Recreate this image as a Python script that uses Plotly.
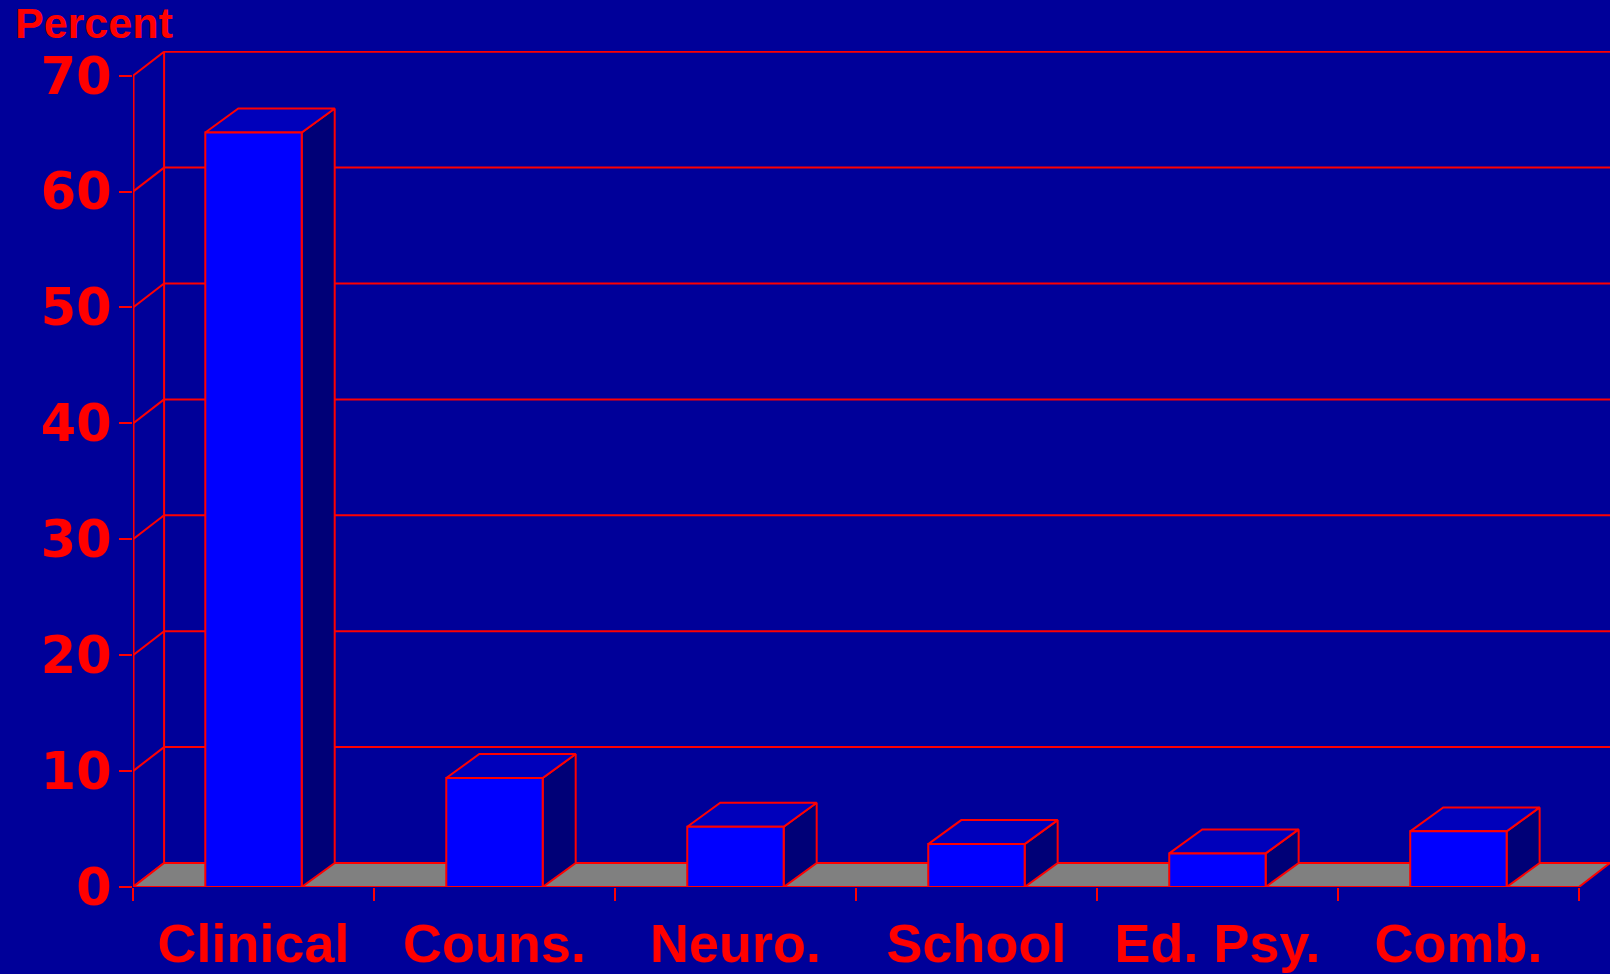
import plotly.graph_objects as go

# data
categories = ["Clinical", "Couns.", "Neuro.", "School", "Ed. Psy.", "Comb."]
percent = [65.1, 9.4, 5.2, 3.7, 2.9, 4.8]
y_ticks = [0, 10, 20, 30, 40, 50, 60, 70]

# styling
BG = "#000099"
RED = "#FF0000"
FRONT = "#0000FF"
TOP = "#0000BB"
SIDE = "#000077"
FLOOR = "#808080"
FONT = "Liberation Sans, Arial, sans-serif"
TICK_FONT = "DejaVu Sans, Verdana, sans-serif"

BAR_W = 0.4
DX, DY = 0.129, 2.07          # depth of walls / floor (data units)
BAR_DX = 0.137                # depth of bars
Y_MAX = 70
X_LO, X_HI = -0.5, len(categories) - 0.5


def poly(xs, ys, fill, width=2):
    return go.Scatter(
        x=xs + [xs[0]], y=ys + [ys[0]], mode="lines", fill="toself",
        fillcolor=fill, line=dict(color=RED, width=width),
        hoverinfo="skip", showlegend=False,
    )


def line(xs, ys, width=2):
    return go.Scatter(
        x=xs, y=ys, mode="lines", line=dict(color=RED, width=width),
        hoverinfo="skip", showlegend=False,
    )


fig = go.Figure()

# back wall grid
for v in y_ticks[1:]:
    fig.add_trace(line([X_LO + DX, X_HI + DX + 1], [v + DY, v + DY]))
for v in y_ticks:
    fig.add_trace(line([X_LO, X_LO + DX], [v, v + DY]))
fig.add_trace(line([X_LO + DX, X_LO + DX], [DY, Y_MAX + DY]))

# floor
fig.add_trace(poly([X_LO, X_HI, X_HI + DX, X_LO + DX], [0, 0, DY, DY], FLOOR))

# front axis line
fig.add_trace(line([X_LO, X_LO], [0, Y_MAX], width=3))

# bars
for i, v in enumerate(percent):
    x0, x1 = i - BAR_W / 2, i + BAR_W / 2
    fig.add_trace(poly([x1, x1 + BAR_DX, x1 + BAR_DX, x1], [0, DY, v + DY, v], SIDE))
    fig.add_trace(poly([x0, x1, x1 + BAR_DX, x0 + BAR_DX], [v, v, v + DY, v + DY], TOP))
    fig.add_trace(poly([x0, x1, x1, x0], [0, 0, v, v], FRONT))

fig.update_layout(
    template="none",
    width=1610, height=974,
    margin=dict(l=133, r=0, t=51, b=87),
    paper_bgcolor=BG, plot_bgcolor=BG,
    font=dict(family=FONT, color=RED),
    showlegend=False,
    annotations=[dict(
        text="Percent", xref="paper", yref="paper",
        x=-0.0812, y=1.034, xanchor="left", yanchor="middle",
        showarrow=False, font=dict(size=43, color=RED, family=FONT, weight="bold"),
    )],
)
fig.update_xaxes(
    range=[X_LO, X_HI + DX], showgrid=False, zeroline=False, showline=False,
    tickmode="array", tickvals=list(range(len(categories))), ticktext=categories,
    ticks="", ticklabelstandoff=20,
    tickfont=dict(size=54, color=RED, family=FONT, weight="bold"),
    minor=dict(tickmode="array", tickvals=[k - 0.5 for k in range(len(categories) + 1)],
               ticks="outside", ticklen=13, tickwidth=2, tickcolor=RED, showgrid=False),
    fixedrange=True, automargin=False,
)
fig.update_yaxes(
    range=[0, 72.13], showgrid=False, zeroline=False, showline=False,
    tickmode="array", tickvals=y_ticks, ticks="outside", ticklen=13,
    tickwidth=2, tickcolor=RED, ticklabelstandoff=-3,
    tickfont=dict(size=51, color=RED, family=TICK_FONT, weight="bold"),
    fixedrange=True, automargin=False,
)

fig.write_html("out.html", config={"displayModeBar": False},
               post_script="document.body.style.margin='0';")
